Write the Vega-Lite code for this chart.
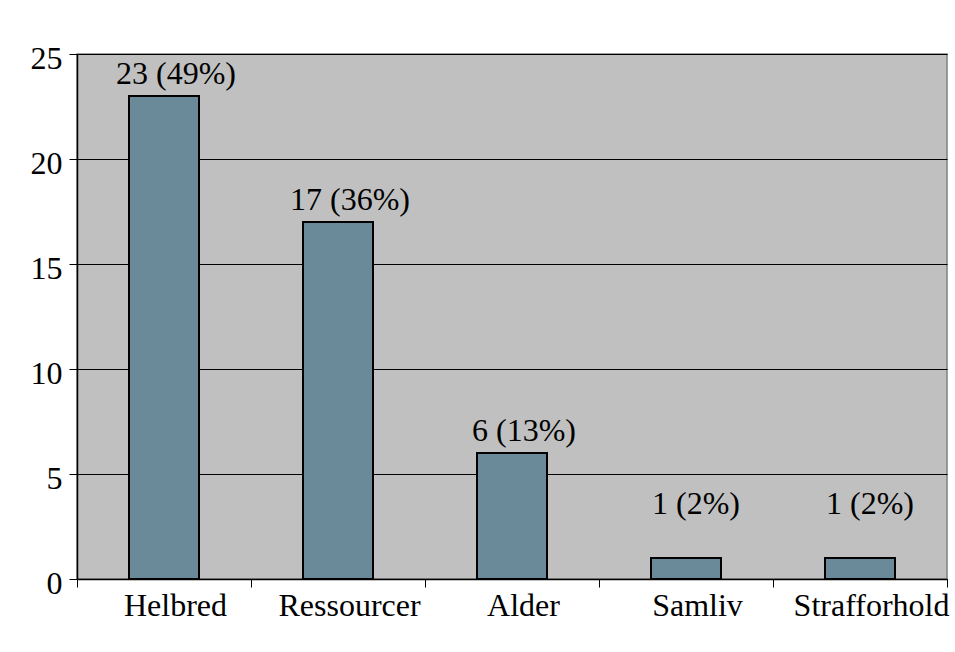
{
  "$schema": "https://vega.github.io/schema/vega-lite/v6.json",
  "autosize": {"type": "none"},
  "padding": {"left": 77, "top": 54, "right": 8, "bottom": 73},
  "width": 870,
  "height": 525,
  "background": "white",
  "config": {
    "view": {"fill": "#c0c0c0", "stroke": "#808080", "strokeWidth": 1.5},
    "font": "Liberation Serif"
  },
  "data": {
    "values": [
      {"kategori": "Helbred", "antal": 23, "label": "23 (49%)"},
      {"kategori": "Ressourcer", "antal": 17, "label": "17 (36%)"},
      {"kategori": "Alder", "antal": 6, "label": "6 (13%)"},
      {"kategori": "Samliv", "antal": 1, "label": "1 (2%)"},
      {"kategori": "Strafforhold", "antal": 1, "label": "1 (2%)"}
    ]
  },
  "encoding": {
    "x": {
      "field": "kategori",
      "type": "nominal",
      "sort": null,
      "scale": {"paddingInner": 0, "paddingOuter": 0},
      "axis": {
        "title": null,
        "labelAngle": 0,
        "labelFont": "Liberation Serif",
        "labelFontSize": 32,
        "labelColor": "black",
        "labelBaseline": "alphabetic",
        "labelPadding": 28,
        "labelOffset": 11,
        "labelOverlap": false,
        "tickBand": "extent",
        "tickSize": 8,
        "tickColor": "black",
        "domainColor": "black",
        "domainWidth": 1.5,
        "grid": false
      }
    },
    "y": {
      "field": "antal",
      "type": "quantitative",
      "scale": {"domain": [0, 25], "nice": false},
      "axis": {
        "title": null,
        "values": [0, 5, 10, 15, 20, 25],
        "labelFont": "Liberation Serif",
        "labelFontSize": 32,
        "labelColor": "black",
        "labelBaseline": "alphabetic",
        "labelOffset": 14,
        "labelPadding": 7,
        "tickSize": 8,
        "tickColor": "black",
        "domainColor": "black",
        "domainWidth": 1.5,
        "grid": true,
        "gridColor": "black",
        "gridOpacity": 1,
        "gridWidth": 1
      }
    }
  },
  "layer": [
    {
      "mark": {"type": "bar", "size": 70, "fill": "#6a8a9a", "stroke": "black", "strokeWidth": 2}
    },
    {
      "transform": [{"filter": "datum.antal >= 5"}],
      "mark": {"type": "text", "baseline": "alphabetic", "dy": -12, "dx": 12, "fontSize": 32, "font": "Liberation Serif", "color": "black"},
      "encoding": {"text": {"field": "label"}}
    },
    {
      "transform": [{"filter": "datum.antal < 5"}],
      "mark": {"type": "text", "baseline": "alphabetic", "dy": -44, "dx": 10, "fontSize": 32, "font": "Liberation Serif", "color": "black"},
      "encoding": {"text": {"field": "label"}}
    }
  ]
}
